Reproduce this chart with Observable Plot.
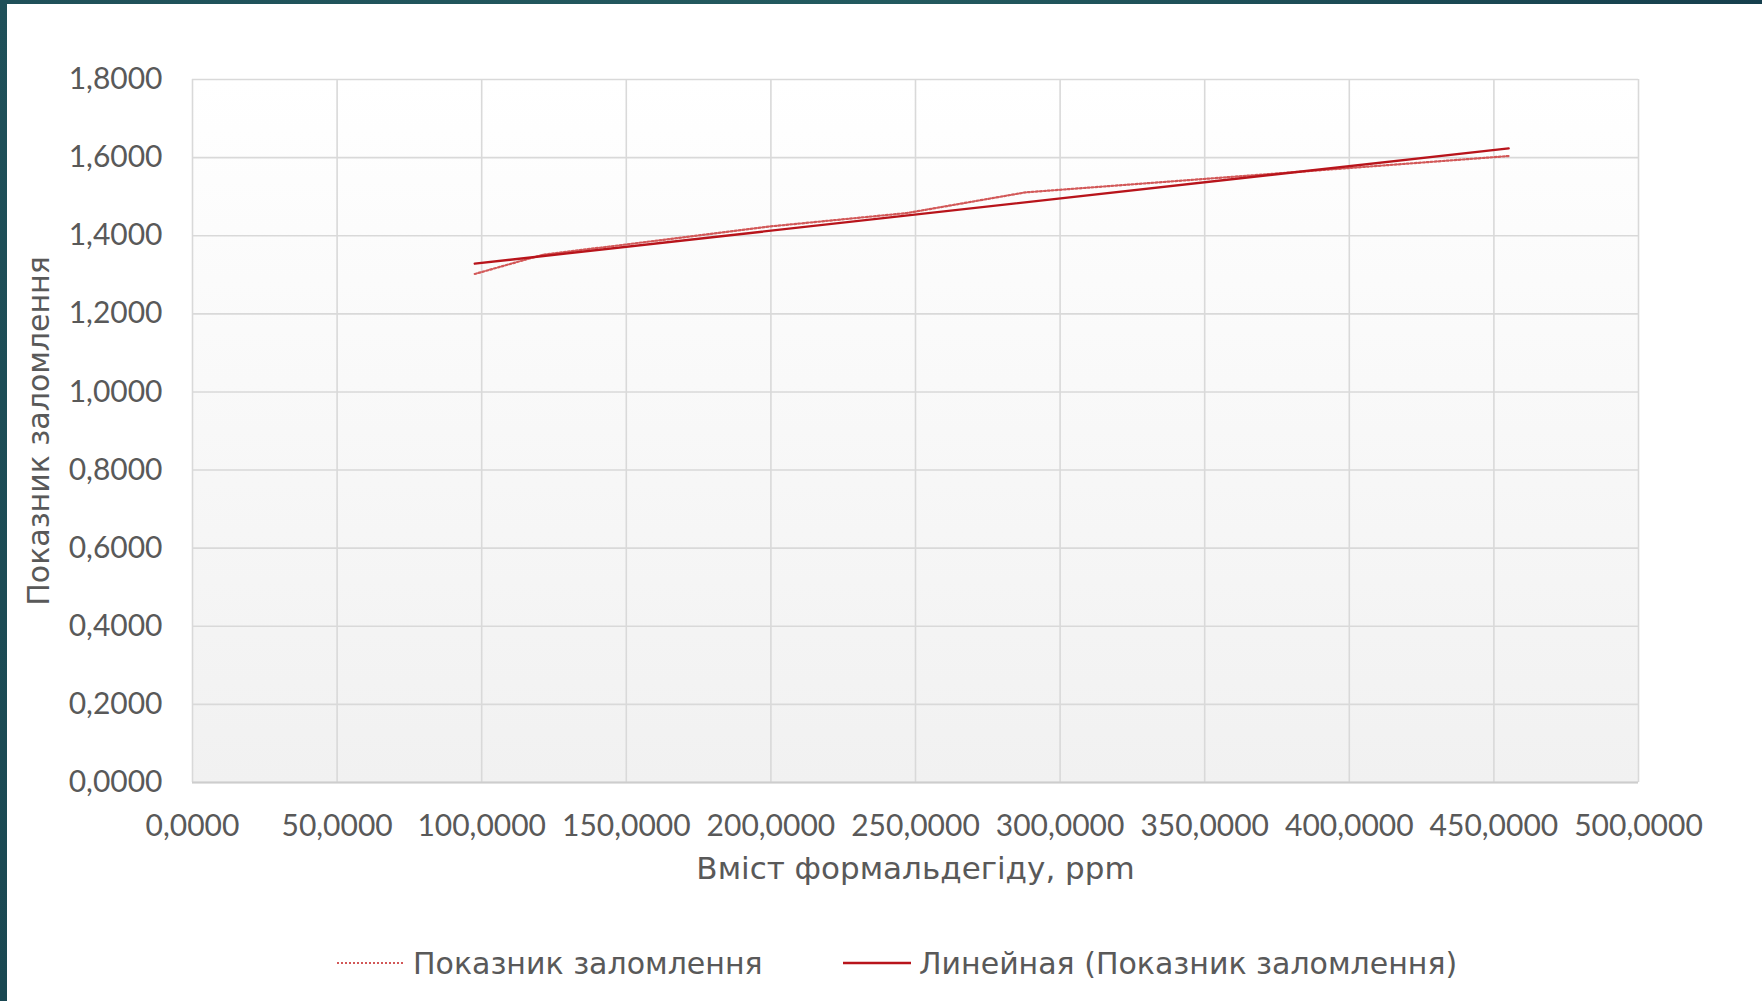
<!DOCTYPE html>
<html>
<head>
<meta charset="utf-8">
<script src="https://cdn.jsdelivr.net/npm/d3@7"></script>
<script src="https://cdn.jsdelivr.net/npm/@observablehq/plot@0.6"></script>
<style>
  html, body { margin: 0; padding: 0; background: #ffffff; width: 1762px; height: 1001px; overflow: hidden; }
  #page { position: relative; width: 1762px; height: 1001px; font-family: Lato, "Noto Sans", sans-serif; color: #595959; }
  #barLeft { position: absolute; left: 0; top: 0; width: 7px; height: 1001px; background: linear-gradient(180deg, #1f5059, #1a4852); }
  #barTop { position: absolute; left: 0; top: 0; width: 1762px; height: 4px; background: linear-gradient(90deg, #1f5059, #235a5f 50%, #163f4d); }
  #chart svg { display: block; }
  #legend { position: relative; width: 1762px; height: 86px; }
  .lg-item { position: absolute; top: 30px; height: 36px; display: flex; align-items: center; font-family: "DejaVu Sans", sans-serif; font-size: 30px; white-space: nowrap; color: #595959; }
  .lg-item svg { margin-right: 8px; }
</style>
</head>
<body>
<div id="page">
  <div id="chart"></div>
  <div id="legend"></div>
  <div id="barLeft"></div>
  <div id="barTop"></div>
</div>
<script>
// ---- data ----
const concentration = [97.6, 121, 200, 247, 288, 455.1];          // Вміст формальдегіду, ppm
const refractiveIndex = [1.302, 1.351, 1.424, 1.458, 1.511, 1.604]; // Показник заломлення
const xTicks = [0, 50, 100, 150, 200, 250, 300, 350, 400, 450, 500];
const yTicks = [0, 0.2, 0.4, 0.6, 0.8, 1.0, 1.2, 1.4, 1.6, 1.8];
const xTitle = "Вміст формальдегіду, ppm";
const yTitle = "Показник заломлення";
const seriesName = "Показник заломлення";
const trendName = "Линейная (Показник заломлення)";
const dataColor = "#d25858";
const trendColor = "#b8141b";
const titleFont = '"DejaVu Sans", sans-serif';

const data = concentration.map((x, i) => ({x, y: refractiveIndex[i]}));
const fmt = d => d3.format(".4f")(d).replace(".", ",");

const chart = Plot.plot({
  width: 1762,
  height: 915,
  marginLeft: 192,
  marginRight: 124,
  marginTop: 79,
  marginBottom: 133,
  x: {domain: [0, 500]},
  y: {domain: [0, 1.8]},
  style: {fontFamily: 'Lato, "Noto Sans", sans-serif', fontSize: "30px", color: "#595959", background: "transparent"},
  marks: [
    Plot.frame({fill: "#f7f7f7"}),
    Plot.gridX(xTicks, {stroke: "#d9d9d9", strokeOpacity: 1, strokeWidth: 1.6}),
    Plot.gridY(yTicks, {stroke: "#d9d9d9", strokeOpacity: 1, strokeWidth: 1.6}),
    Plot.ruleY([0], {stroke: "#cdcdcd", strokeWidth: 2}),
    Plot.axisX(xTicks, {tickSize: 0, tickPadding: 32, tickFormat: fmt, label: null, fontSize: 30, fill: "#595959"}),
    Plot.axisY(yTicks, {tickSize: 0, tickPadding: 30, tickFormat: fmt, label: null, fontSize: 30, fill: "#595959"}),
    Plot.text([xTitle], {text: d => d, frameAnchor: "bottom", textAnchor: "middle", dy: 96, fontSize: 31, fontFamily: titleFont, fill: "#595959"}),
    Plot.text([yTitle], {text: d => d, frameAnchor: "left", textAnchor: "middle", dx: -153, rotate: -90, fontSize: 30, fontFamily: titleFont, fill: "#595959"}),
    Plot.line(data, {x: "x", y: "y", stroke: dataColor, strokeWidth: 2.2, strokeDasharray: "2 2"}),
    Plot.linearRegressionY(data, {x: "x", y: "y", stroke: trendColor, strokeWidth: 2.4, ci: 0})
  ]
});

// vertical gradient for the plot area (white at top, light grey at bottom)
const ns = "http://www.w3.org/2000/svg";
const defs = document.createElementNS(ns, "defs");
const grad = document.createElementNS(ns, "linearGradient");
grad.setAttribute("id", "plotBg");
grad.setAttribute("x1", "0"); grad.setAttribute("y1", "0");
grad.setAttribute("x2", "0"); grad.setAttribute("y2", "1");
[["0", "#ffffff"], ["1", "#f1f1f1"]].forEach(([o, c]) => {
  const s = document.createElementNS(ns, "stop");
  s.setAttribute("offset", o); s.setAttribute("stop-color", c);
  grad.appendChild(s);
});
defs.appendChild(grad);
chart.insertBefore(defs, chart.firstChild);
const frameRect = chart.querySelector('[aria-label="frame"]');
if (frameRect) {
  const r = frameRect.tagName.toLowerCase() === "rect" ? frameRect : frameRect.querySelector("rect");
  (r || frameRect).setAttribute("fill", "url(#plotBg)");
}
document.getElementById("chart").appendChild(chart);

// legend below the chart
const legend = document.getElementById("legend");
[
  {name: seriesName, color: dataColor, dash: "2 2", width: 2, left: 337},
  {name: trendName, color: trendColor, dash: null, width: 2.6, left: 843}
].forEach(item => {
  const div = document.createElement("div");
  div.className = "lg-item";
  div.style.left = item.left + "px";
  const sw = document.createElementNS(ns, "svg");
  sw.setAttribute("width", "68"); sw.setAttribute("height", "10");
  const ln = document.createElementNS(ns, "line");
  ln.setAttribute("x1", "0"); ln.setAttribute("x2", "68");
  ln.setAttribute("y1", "5"); ln.setAttribute("y2", "5");
  ln.setAttribute("stroke", item.color);
  ln.setAttribute("stroke-width", item.width);
  if (item.dash) ln.setAttribute("stroke-dasharray", item.dash);
  sw.appendChild(ln);
  div.appendChild(sw);
  const span = document.createElement("span");
  span.textContent = item.name;
  div.appendChild(span);
  legend.appendChild(div);
});
</script>
</body>
</html>
